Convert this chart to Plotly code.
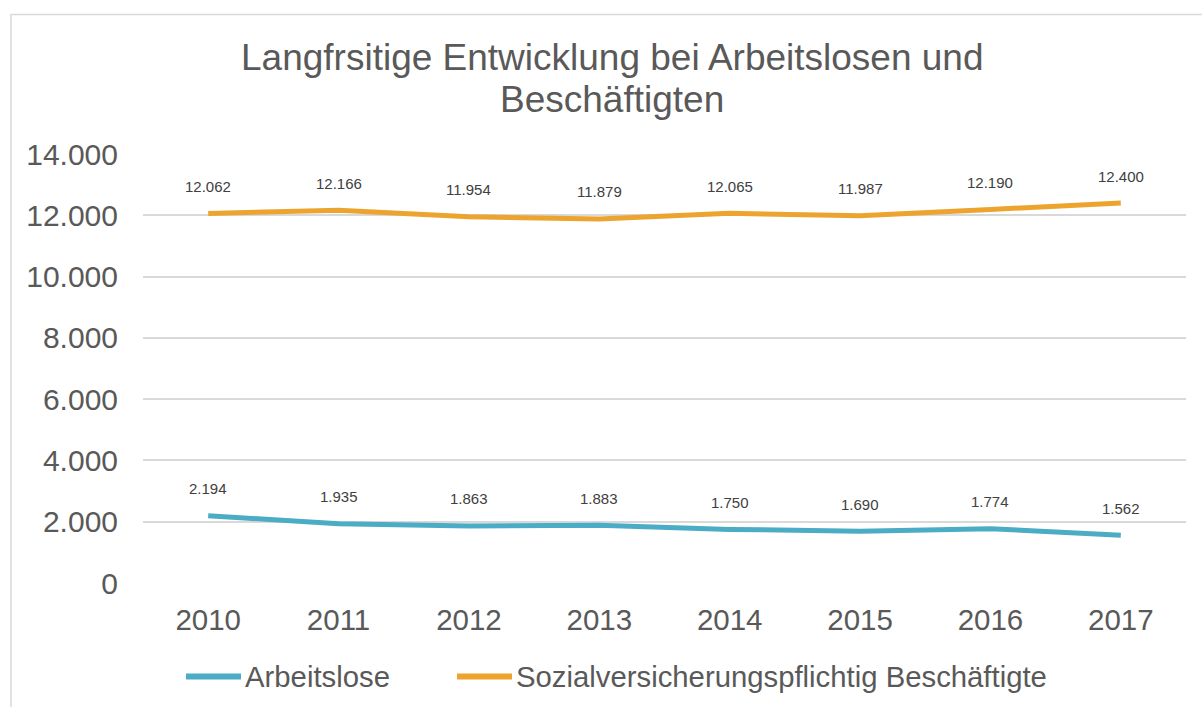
import plotly.graph_objects as go

# Data
years = ["2010", "2011", "2012", "2013", "2014", "2015", "2016", "2017"]
arbeitslose = [2194, 1935, 1863, 1883, 1750, 1690, 1774, 1562]
beschaeftigte = [12062, 12166, 11954, 11879, 12065, 11987, 12190, 12400]
y_ticks = [0, 2000, 4000, 6000, 8000, 10000, 12000, 14000]

series_names = ["Arbeitslose", "Sozialversicherungspflichtig Beschäftigte"]
title_lines = ["Langfrsitige Entwicklung bei Arbeitslosen und", "Beschäftigten"]
teal = "#4BACC6"
orange = "#EDA42E"

W, H = 1202, 707
L, R, T, B = 143, 16, 154, 124
pw, ph = W - L - R, H - T - B

FONT = "Liberation Sans, Arial, sans-serif"


def de(v):
    return f"{v:,}".replace(",", ".")


def px_x(x):
    return (x - L) / pw


def px_y(y):
    return (H - B - y) / ph


fig = go.Figure()
for name, vals, col in [(series_names[0], arbeitslose, teal),
                        (series_names[1], beschaeftigte, orange)]:
    fig.add_trace(go.Scatter(
        x=years, y=vals, mode="lines", name=name,
        line=dict(color=col, width=5),
        showlegend=False, hoverinfo="skip",
    ))

annotations = []
# Value labels above each point (x given as category index)
for vals in (arbeitslose, beschaeftigte):
    for i, v in enumerate(vals):
        annotations.append(dict(
            x=i, y=v, xref="x", yref="y", text=de(v), showarrow=False,
            yshift=27, font=dict(family=FONT, size=15, color="#404040"),
        ))

# Two-line title
for line, yc in zip(title_lines, (57, 99)):
    annotations.append(dict(
        xref="paper", yref="paper", x=px_x(612), y=px_y(yc),
        xanchor="center", yanchor="middle", text=line, showarrow=False,
        font=dict(family=FONT, size=37, color="#595959"),
    ))

# Legend drawn below the plot
legend_items = [(series_names[0], teal, 186, 241), (series_names[1], orange, 457, 512)]
shapes = []
for name, col, x0, x1 in legend_items:
    shapes.append(dict(
        type="line", xref="paper", yref="paper",
        x0=px_x(x0), x1=px_x(x1), y0=px_y(676.5), y1=px_y(676.5),
        line=dict(color=col, width=6),
    ))
    annotations.append(dict(
        xref="paper", yref="paper", x=px_x(x1 + 2), y=px_y(676.5),
        xanchor="left", yanchor="middle", text=name, showarrow=False,
        font=dict(family=FONT, size=29.3, color="#595959"),
    ))

# Chart frame
shapes.append(dict(
    type="rect", xref="paper", yref="paper", layer="below",
    x0=px_x(11), x1=px_x(1220), y0=px_y(720), y1=px_y(14.5),
    line=dict(color="#D9D9D9", width=1.5), fillcolor="rgba(0,0,0,0)",
))

fig.update_layout(
    width=W, height=H,
    margin=dict(l=L, r=R, t=T, b=B),
    paper_bgcolor="white", plot_bgcolor="white",
    separators=",.",
    xaxis=dict(
        type="category", range=[-0.5, 7.5],
        showgrid=False, zeroline=False, showline=False, ticks="",
        tickfont=dict(family=FONT, size=29.5, color="#595959"),
        ticklabelstandoff=16,
    ),
    yaxis=dict(
        range=[0, 14000], tickvals=y_ticks,
        ticktext=[de(v) for v in y_ticks],
        showgrid=True, gridcolor="#D9D9D9", gridwidth=1.5,
        zeroline=False, showline=False, ticks="",
        tickfont=dict(family=FONT, size=30, color="#595959"),
        ticklabelstandoff=24,
    ),
    annotations=annotations,
    shapes=shapes,
)

fig.write_html("out.html")
